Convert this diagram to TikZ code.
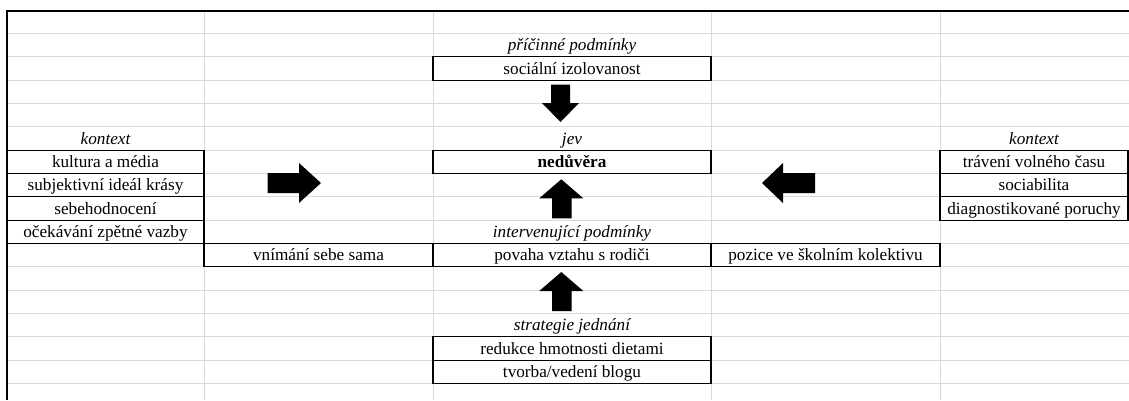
\documentclass[tikz,border=0pt]{standalone}
\usepackage{fontspec}
\setmainfont{Liberation Serif}
\begin{document}
\begin{tikzpicture}[x=1pt,y=-1pt,
  gridline/.style={draw=gray!30, line width=1pt},
  sheetframe/.style={draw=black, line width=2pt},
  cell/.style={inner sep=0pt, text height=11pt, text depth=0pt, minimum height=23.33pt,
    font=\fontsize{17.2}{20}\selectfont},
  cellbox/.style={cell, draw=black, line width=1.1pt},
  heading/.style={cell, font=\fontsize{17.2}{20}\selectfont\itshape},
  blockarrow/.style={fill=black, draw=none}]
\useasboundingbox (0,0) rectangle (1129,400);

% spreadsheet grid
\foreach \k in {1,...,16}
  \draw[gridline] (8,{10.2+23.33*\k}) -- (1129,{10.2+23.33*\k});
\foreach \x in {204,433,711,940}
  \draw[gridline] (\x,11) -- (\x,400);

% causal conditions
\node[heading, minimum width=278pt] (pricinne) at (572,45.2) {příčinné podmínky};
\node[cellbox, minimum width=278pt] (izol) at (572,68.5) {sociální izolovanost};

% phenomenon
\node[heading, minimum width=278pt] (jev) at (572,138.5) {jev};
\node[cellbox, minimum width=278pt, font=\fontsize{17.2}{20}\selectfont\bfseries] (nedu) at (572,161.9) {nedůvěra};

% left context
\node[heading, minimum width=197pt] (kontextL) at (105.5,138.5) {kontext};
\node[cellbox, minimum width=197pt] (kult) at (105.5,161.9) {kultura a média};
\node[cellbox, minimum width=197pt] (ideal) at (105.5,185.2) {subjektivní ideál krásy};
\node[cellbox, minimum width=197pt] (sebeh) at (105.5,208.5) {sebehodnocení};
\node[cellbox, minimum width=197pt] (ocek) at (105.5,231.9) {očekávání zpětné vazby};

% right context
\node[heading, minimum width=188pt] (kontextR) at (1034,138.5) {kontext};
\node[cellbox, minimum width=188pt] (trav) at (1034,161.9) {trávení volného času};
\node[cellbox, minimum width=188pt] (soc) at (1034,185.2) {sociabilita};
\node[cellbox, minimum width=188pt] (diag) at (1034,208.5) {diagnostikované poruchy};

% intervening conditions
\node[heading, minimum width=278pt] (interv) at (572,231.9) {intervenující podmínky};
\node[cellbox, minimum width=229pt] (vnim) at (318.5,255.2) {vnímání sebe sama};
\node[cellbox, minimum width=278pt] (povaha) at (572,255.2) {povaha vztahu s rodiči};
\node[cellbox, minimum width=229pt] (pozice) at (825.5,255.2) {pozice ve školním kolektivu};

% action strategies
\node[heading, minimum width=278pt] (strat) at (572,325.2) {strategie jednání};
\node[cellbox, minimum width=278pt] (redukce) at (572,348.5) {redukce hmotnosti dietami};
\node[cellbox, minimum width=278pt] (blog) at (572,371.9) {tvorba/vedení blogu};

% block arrows
\fill[blockarrow] (267.7,173) -- (299,173) -- (299,163) -- (321,183) -- (299,203) -- (299,193) -- (267.7,193) -- cycle;
\fill[blockarrow] (815,173) -- (783,173) -- (783,163) -- (762,183) -- (783,203) -- (783,193) -- (815,193) -- cycle;
\fill[blockarrow] (551,84.7) -- (570,84.7) -- (570,103) -- (579,103) -- (560.5,122) -- (542,103) -- (551,103) -- cycle;
\fill[blockarrow] (552,218.3) -- (571.5,218.3) -- (571.5,198.3) -- (583.3,198.3) -- (561.3,179.3) -- (539.3,198.3) -- (552,198.3) -- cycle;
\fill[blockarrow] (552,311) -- (571.5,311) -- (571.5,291) -- (583.3,291) -- (561.3,272) -- (539.3,291) -- (552,291) -- cycle;

% sheet border
\draw[sheetframe] (7,400) -- (7,10.5) -- (1129,10.5);
\end{tikzpicture}
\end{document}
